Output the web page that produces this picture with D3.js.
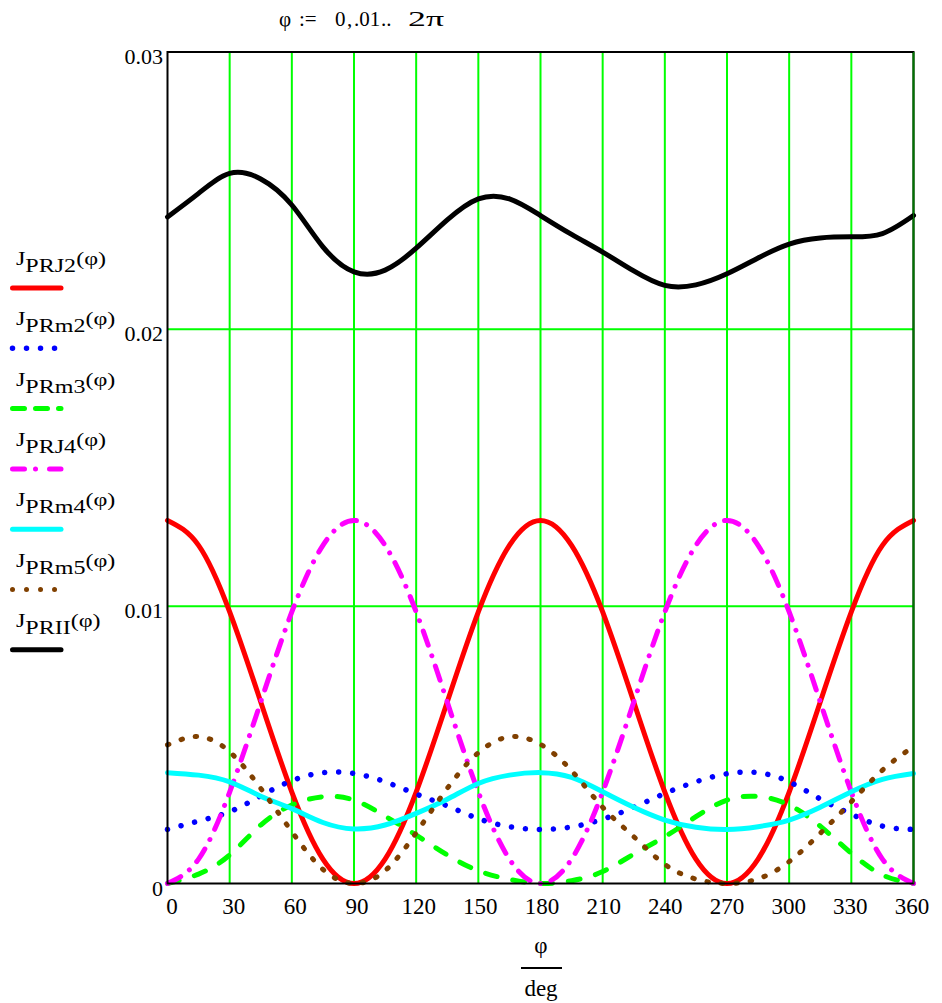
<!DOCTYPE html>
<html>
<head>
<meta charset="utf-8">
<script src="https://cdn.jsdelivr.net/npm/d3@7"></script>
<style>
  body { margin: 0; background: #fff; }
  svg { display: block; }
  text { font-family: "Liberation Serif", "Times New Roman", "DejaVu Serif", serif; fill: #000; }
</style>
</head>
<body>
<svg id="chart" width="942" height="1003" font-family="Liberation Serif, DejaVu Serif, serif"></svg>
<script>
// Angle samples, degrees
const angles = [0, 15, 30, 45, 60, 75, 90, 105, 120, 135, 150, 165, 180,
                195, 210, 225, 240, 255, 270, 285, 300, 315, 330, 345, 360];

// J_PRJ2(φ)
const jPRJ2 = [0.01310, 0.01220, 0.00980, 0.00655, 0.00330, 0.00088, 0.00000, 0.00088, 0.00330, 0.00655, 0.00980, 0.01220, 0.01310,
               0.01220, 0.00980, 0.00655, 0.00330, 0.00088, 0.00000, 0.00088, 0.00330, 0.00655, 0.00980, 0.01220, 0.01310];
// J_PRm2(φ)
const jPRm2 = [0.00195, 0.00225, 0.00259, 0.00316, 0.00371, 0.00400, 0.00397, 0.00367, 0.00323, 0.00280, 0.00234, 0.00205, 0.00195,
               0.00204, 0.00232, 0.00275, 0.00325, 0.00367, 0.00396, 0.00400, 0.00367, 0.00305, 0.00250, 0.00207, 0.00195];
// J_PRm3(φ)
const jPRm3 = [0.00000, 0.00034, 0.00103, 0.00211, 0.00283, 0.00313, 0.00301, 0.00243, 0.00175, 0.00103, 0.00046, 0.00015, 0.00000,
               0.00010, 0.00043, 0.00106, 0.00169, 0.00241, 0.00301, 0.00314, 0.00283, 0.00207, 0.00109, 0.00031, 0.00000];
// J_PRJ4(φ)
const jPRJ4 = [0.00000, 0.00088, 0.00330, 0.00655, 0.00980, 0.01220, 0.01310, 0.01220, 0.00980, 0.00655, 0.00330, 0.00088, 0.00000,
               0.00088, 0.00330, 0.00655, 0.00980, 0.01220, 0.01310, 0.01220, 0.00980, 0.00655, 0.00330, 0.00088, 0.00000];
// J_PRm4(φ)
const jPRm4 = [0.00400, 0.00391, 0.00367, 0.00315, 0.00270, 0.00220, 0.00197, 0.00211, 0.00253, 0.00304, 0.00361, 0.00391, 0.00400,
               0.00383, 0.00331, 0.00275, 0.00229, 0.00203, 0.00195, 0.00205, 0.00229, 0.00275, 0.00331, 0.00376, 0.00397];
// J_PRm5(φ)
const jPRm5 = [0.00500, 0.00530, 0.00475, 0.00343, 0.00187, 0.00051, 0.00000, 0.00046, 0.00183, 0.00343, 0.00472, 0.00529, 0.00502,
               0.00407, 0.00275, 0.00169, 0.00069, 0.00016, 0.00000, 0.00017, 0.00079, 0.00181, 0.00295, 0.00409, 0.00494];
// J_PRII(φ)
const jPRII = [0.02405, 0.02490, 0.02562, 0.02542, 0.02448, 0.02297, 0.02207, 0.02213, 0.02292, 0.02394, 0.02470, 0.02470, 0.02410,
               0.02342, 0.02278, 0.02210, 0.02158, 0.02160, 0.02200, 0.02257, 0.02307, 0.02329, 0.02333, 0.02345, 0.02410];

const xTicks = [0, 30, 60, 90, 120, 150, 180, 210, 240, 270, 300, 330, 360];
const yTicks = [0, 0.01, 0.02, 0.03];
const yTickLabels = ["0", "0.01", "0.02", "0.03"];
const legendSubs = ["PRJ2", "PRm2", "PRm3", "PRJ4", "PRm4", "PRm5", "PRII"];

const series = [
  { values: jPRJ2, color: "#ff0000", dash: null,            legendDash: null,             width: 5 },
  { values: jPRm2, color: "#0000ff", dash: "0.01 14",       legendDash: "0.01 14",        width: 5.5 },
  { values: jPRm3, color: "#00ff00", dash: "12 16",         legendDash: "12 11",          width: 5 },
  { values: jPRJ4, color: "#ff00ff", dash: "15 11 0.01 11", legendDash: "12 11 0.01 14",  width: 5 },
  { values: jPRm4, color: "#00ffff", dash: null,            legendDash: null,             width: 5 },
  { values: jPRm5, color: "#804000", dash: "1.5 13",        legendDash: "0.01 14",        width: 5 },
  { values: jPRII, color: "#000000", dash: null,            legendDash: null,             width: 5 }
];

const svg = d3.select("#chart");
const pl = 167.5, pr = 913.5, pt = 52, pb = 883.5;
const serif = "Liberation Serif, DejaVu Serif, serif";

const x = d3.scaleLinear().domain([0, 360]).range([pl, pr]);
const y = d3.scaleLinear().domain([0, 0.03]).range([pb, pt]);
// x labels sit on a slightly narrower span than the grid
const xLab = d3.scaleLinear().domain([0, 360]).range([172, 912]);

// grid
const grid = svg.append("g").attr("stroke", "#00ff00").attr("stroke-width", 2);
grid.selectAll("line.v").data(xTicks.slice(1)).join("line")
  .attr("class", "v")
  .attr("x1", d => x(d)).attr("x2", d => x(d))
  .attr("y1", pt).attr("y2", pb);
grid.selectAll("line.h").data(yTicks.slice(1, 3)).join("line")
  .attr("class", "h")
  .attr("x1", pl).attr("x2", pr)
  .attr("y1", d => y(d)).attr("y2", d => y(d));

// curves
const line = d3.line()
  .x((d, i) => x(angles[i]))
  .y(d => y(d))
  .curve(d3.curveNatural);

const plot = svg.append("g");
series.forEach(s => {
  plot.append("path")
    .attr("d", line(s.values))
    .attr("fill", "none")
    .attr("stroke", s.color)
    .attr("stroke-width", s.width)
    .attr("stroke-linecap", "round")
    .attr("stroke-linejoin", "round")
    .attr("stroke-dasharray", s.dash);
});

// frame
svg.append("path")
  .attr("d", `M${pl},${pt}H${pr}V${pb}H${pl}Z`)
  .attr("fill", "none").attr("stroke", "#000").attr("stroke-width", 2);
svg.append("line")
  .attr("x1", pr).attr("x2", pr).attr("y1", pt).attr("y2", pb)
  .attr("stroke", "#00c000").attr("stroke-width", 1).attr("opacity", 0.6);

// y labels
svg.append("g").selectAll("text").data(yTicks).join("text")
  .attr("font-family", serif)
  .attr("x", 163).attr("y", d => y(d) + 12)
  .attr("text-anchor", "end").attr("font-size", 22)
  .text((d, i) => yTickLabels[i]);

// x labels
svg.append("g").selectAll("text").data(xTicks).join("text")
  .attr("font-family", serif)
  .attr("x", d => xLab(d)).attr("y", 914)
  .attr("text-anchor", "middle").attr("font-size", 23)
  .text(d => d);

// x axis title: φ / deg
svg.append("text").attr("font-family", serif)
  .attr("x", 541).attr("y", 953).attr("text-anchor", "middle")
  .attr("font-size", 23).text("φ");
svg.append("line").attr("x1", 521).attr("x2", 562).attr("y1", 968).attr("y2", 968)
  .attr("stroke", "#000").attr("stroke-width", 2);
svg.append("text").attr("font-family", serif)
  .attr("x", 541).attr("y", 996).attr("text-anchor", "middle")
  .attr("font-size", 23).text("deg");

// range definition φ := 0, .01 .. 2π
const def = svg.append("text").attr("font-family", serif).attr("font-size", 21).attr("y", 26);
def.append("tspan").attr("x", 279).text("φ");
def.append("tspan").attr("x", 299).text(":=");
def.append("tspan").attr("x", 335).text("0");
def.append("tspan").attr("x", 347).text(",");
def.append("tspan").attr("x", 354).text(".01");
def.append("tspan").attr("x", 381).text("..");
def.append("tspan").attr("x", 408).attr("textLength", 36)
  .attr("lengthAdjust", "spacingAndGlyphs").text("2π");

// legend
const legend = svg.append("g");
series.forEach((s, i) => {
  const by = 265 + 60.3 * i;
  const t = legend.append("text").attr("font-family", serif).attr("font-size", 18.5)
    .attr("transform", `translate(16,${by}) scale(1.3,1)`);
  t.append("tspan").text("J");
  t.append("tspan").attr("dy", 7).text(legendSubs[i]);
  t.append("tspan").attr("dy", -7).text("(φ)");
  legend.append("line")
    .attr("x1", 12.5).attr("x2", 61).attr("y1", by + 23).attr("y2", by + 23)
    .attr("stroke", s.color).attr("stroke-width", s.width)
    .attr("stroke-linecap", "round")
    .attr("stroke-dasharray", s.legendDash);
});
</script>
</body>
</html>
